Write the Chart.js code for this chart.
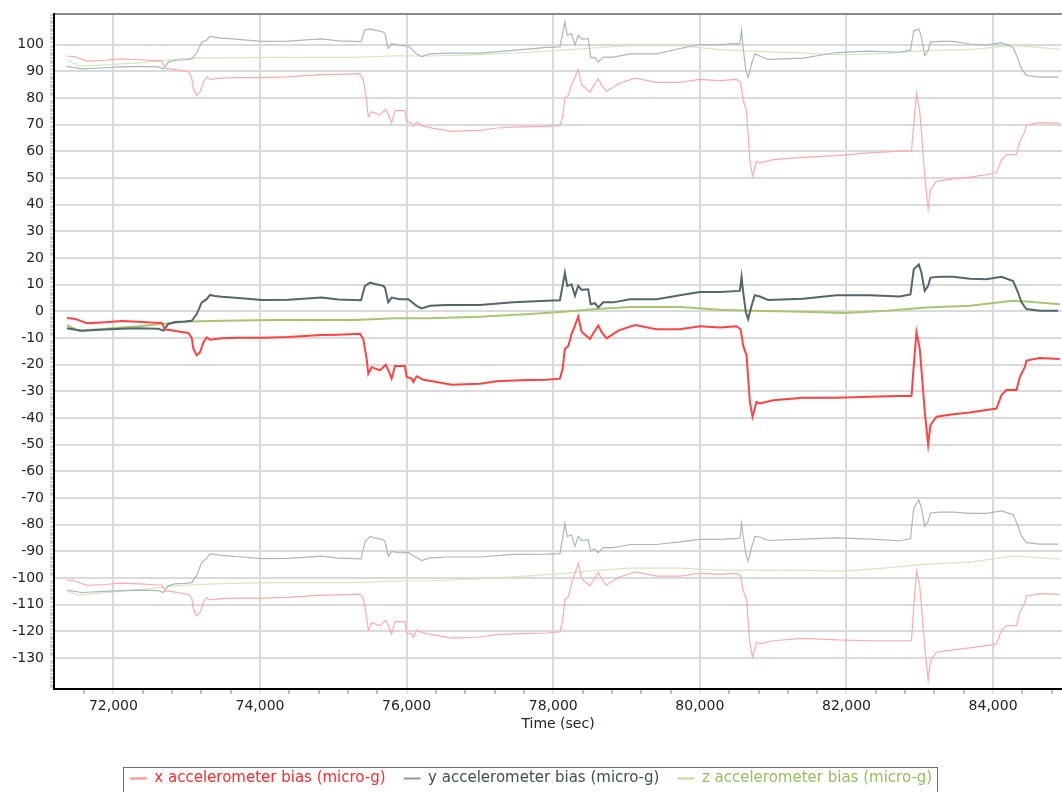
<!DOCTYPE html>
<html>
<head>
<meta charset="utf-8">
<script src="https://cdn.jsdelivr.net/npm/chart.js@4.4.0/dist/chart.umd.min.js"></script>
<style>
  html, body { margin: 0; padding: 0; background: #fff; }
</style>
</head>
<body>
<canvas id="myChart" width="1062" height="792"></canvas>
<script>
// x accelerometer bias: time (sec), bias and 3-sigma bound width (micro-g)
const xTime = [71365,71480,71637,71887,72114,72341,72569,72660,72705,72773,
  72886,73023,73069,73091,73137,73182,73227,73273,73318,73478,
  73705,74023,74386,74841,75068,75364,75409,75455,75477,75523,
  75637,75714,75750,75796,75841,75977,76000,76069,76091,76137,
  76228,76409,76614,77000,77228,77546,77910,78091,78128,78159,
  78205,78250,78296,78341,78387,78500,78546,78614,78660,78728,
  78887,79114,79410,79728,80000,80273,80500,80555,80591,80637,
  80682,80719,80773,80819,81000,81409,81864,82318,82727,82887,
  82918,82955,83000,83068,83114,83146,83228,83455,83682,83910,
  84046,84114,84182,84319,84364,84432,84455,84637,84910]
const xBias = [-2.5,-2.8,-4.4,-4.1,-3.6,-3.9,-4.2,-4.3,-6.8,-7.0,
  -7.5,-8.1,-10.0,-14.0,-16.5,-15.3,-11.6,-9.7,-10.6,-10.1,
  -9.9,-9.9,-9.6,-8.8,-8.7,-8.4,-10.4,-17.8,-23.4,-20.9,
  -22.1,-20.0,-22.0,-25.2,-20.5,-20.5,-24.6,-25.2,-26.5,-24.3,
  -25.6,-26.5,-27.5,-27.1,-26.2,-25.8,-25.6,-25.2,-21.5,-14.0,
  -13.0,-8.5,-5.3,-1.9,-7.6,-10.3,-8.2,-5.3,-7.8,-10.1,
  -7.2,-5.1,-6.7,-6.7,-5.6,-6.0,-5.6,-6.6,-12.8,-16.5,
  -33.9,-39.5,-33.9,-34.5,-33.3,-32.4,-32.4,-32.0,-31.7,-31.7,
  -20.2,-7.8,-14.0,-37.6,-50.0,-42.6,-39.5,-38.6,-37.9,-37.0,
  -36.4,-31.4,-29.5,-29.5,-24.6,-20.9,-18.4,-17.5,-17.8]
const xSigma = [98.3,98.3,98.3,98.3,98.3,98.3,98.3,98.3,98,98,
  98,98,97.6,97.6,97.6,97.6,97.6,97.6,97.6,97.6,
  97.6,97.6,97.6,97.6,97.6,97.6,97.2,96.8,96.4,95.8,
  95.8,95.8,95.8,95.8,95.8,95.8,95.8,95.8,95.8,95.2,
  95,95,95,95,95,95,95,95,94.5,94,
  94,93.5,93,92.6,92.6,92.6,92.6,92.6,92.6,92.6,
  92.6,92.6,92.6,92.6,92.6,92.6,92.6,92.6,92,91.5,
  90.5,90.2,90.2,90.2,90.2,90.2,90.8,91.5,91.8,91.8,
  90.5,89.5,89,88.3,88.3,88.3,88.3,88.3,88.3,88.3,
  88.3,88.3,88.3,88.3,88.3,88.3,88.3,88.3,88.3]

// y accelerometer bias
const yTime = [71365,71569,71887,72114,72341,72614,72682,72750,72841,72977,
  73069,73137,73205,73273,73318,73387,73478,73705,74023,74386,
  74841,75068,75378,75432,75500,75569,75682,75705,75750,75796,
  75909,76023,76137,76205,76318,76546,77000,77455,77910,78091,
  78128,78159,78191,78250,78296,78341,78387,78478,78510,78568,
  78614,78682,78819,79046,79410,79728,80000,80273,80546,80569,
  80591,80628,80659,80705,80750,80819,80932,81409,81864,82318,
  82727,82873,82918,82987,83023,83068,83114,83146,83273,83455,
  83682,83910,84114,84273,84341,84387,84455,84637,84887]
const yBias = [-6.3,-7.2,-6.8,-6.5,-6.3,-6.5,-7.2,-4.7,-4.0,-3.8,
  -3.5,-1.0,3.4,4.6,6.2,5.8,5.5,5.0,4.3,4.4,
  5.2,4.5,4.2,9.6,10.8,10.3,9.6,8.9,3.4,5.2,
  4.6,4.6,2.1,1.1,2.1,2.4,2.4,3.4,4.0,4.2,
  9.6,14.5,9.6,10.2,5.9,9.6,8.1,8.3,2.7,3.1,
  1.5,3.4,3.4,4.6,4.6,6.1,7.3,7.3,7.7,13.0,
  7.2,-0.4,-2.9,2.1,6.1,5.6,4.3,4.8,6.1,6.1,
  5.6,6.4,15.8,17.6,14.5,7.7,9.6,12.7,13.0,13.0,
  12.3,12.1,13.0,11.4,7.1,3.4,0.9,0.3,0.3]
const ySigma = [98.2,98.2,98.2,98.2,98.2,98.2,98.2,98.2,98.2,98.2,
  98.2,98,97.5,97.2,97,97,97,97,97,97,
  97,97,97,96,95.2,95.2,95.2,95.2,95.2,95.2,
  95.2,95,94.5,94.5,94.5,94.5,94.5,94.5,95,95,
  94.5,94,94,94,94,94,94,94,92.5,92.2,
  92,92,92,92,92,92.5,92.8,92.8,92.8,92.5,
  91.5,90.8,90.7,90.7,90.5,90.2,90.2,90.2,91,91.5,
  91.6,91.6,89.5,88.3,88.3,88.3,88.3,88.3,88.3,88.3,
  88,87.8,87.8,87.6,87.6,87.6,87.6,87.6,87.6]

// z accelerometer bias
const zTime = [71365,71523,71887,72341,72660,73023,73478,74160,75296,75841,
  76318,77000,77682,78137,78592,79046,79728,80273,80728,81409,
  81978,82546,83091,83682,84273,84500,84910]
const zBias = [-5.1,-7.2,-6.5,-5.6,-4.7,-3.8,-3.5,-3.2,-3.2,-2.6,
  -2.6,-2.0,-1.0,-0.1,0.9,1.7,1.7,0.6,0.3,-0.1,
  -0.6,0.3,1.5,2.1,4.0,3.6,2.7]
const zSigma = [99.6,99.2,99,98.8,98.8,98.8,98.6,98.5,98.5,98.5,
  98.4,98.3,98.2,98.1,98,98,98,97.6,97.3,97,
  96.8,96.5,96.3,96.1,95.8,95.7,95.6]

const legendLabels = ['x accelerometer bias (micro-g)', 'y accelerometer bias (micro-g)', 'z accelerometer bias (micro-g)']
const xTickValues = [72000, 74000, 76000, 78000, 80000, 82000, 84000]
const xTickLabels = ['72,000', '74,000', '76,000', '78,000', '80,000', '82,000', '84,000']
const yTickValues = [-130, -120, -110, -100, -90, -80, -70, -60, -50, -40, -30, -20, -10, 0, 10, 20, 30, 40, 50, 60, 70, 80, 90, 100]
const yTickLabels = ['-130', '-120', '-110', '-100', '-90', '-80', '-70', '-60', '-50', '-40', '-30', '-20', '-10', '0', '10', '20', '30', '40', '50', '60', '70', '80', '90', '100']

const mainColors = ['#ff4242', '#52666b', '#a6c76e']
const boundColors = ['#ffabab', '#aab8bb', '#d6e6c0']
const swatchColors = ['#ff8a8a', '#8c9b9d', '#c2da9a']
const textColors = ['#ff2a2a', '#3f4e54', '#96bf5c']

const gridColor = '#dadada'
const fontName = "'DejaVu Sans', Verdana, sans-serif"

function toPoints(times, vals) {
  return times.map((t, i) => ({x: t, y: vals[i]}))
}
// upper / lower bound = bias +/- 3 sigma
function toBound(times, vals, sig, sign) {
  return times.map((t, i) => ({x: t, y: vals[i] + sign * sig[i]}))
}

const series = [[xTime, xBias, xSigma], [yTime, yBias, ySigma], [zTime, zBias, zSigma]]
const datasets = []
series.forEach((s, i) => {
  datasets.push({label: legendLabels[i], data: toPoints(s[0], s[1]), borderColor: mainColors[i], borderWidth: 2})
})
series.forEach((s, i) => {
  datasets.push({label: '', data: toBound(s[0], s[1], s[2], 1), borderColor: boundColors[i], borderWidth: 1.2})
  datasets.push({label: '', data: toBound(s[0], s[1], s[2], -1), borderColor: boundColors[i], borderWidth: 1.2})
})

// box round the legend, as in the original
const legendBox = {
  id: 'legendBox',
  afterDraw(chart) {
    const hb = chart.legend.legendHitBoxes
    if (!hb || !hb.length) return
    const last = hb[hb.length - 1]
    const left = Math.round(hb[0].left - 7) + 0.5
    const right = Math.round(last.left + last.width + 5) + 0.5
    const top = Math.round(hb[0].top - 4) + 0.5
    const ctx = chart.ctx
    ctx.save()
    ctx.strokeStyle = '#6e6e6e'
    ctx.lineWidth = 1
    ctx.strokeRect(left, top, right - left, 60)
    ctx.restore()
  }
}

const ctx = document.getElementById('myChart').getContext('2d')
const myChart = new Chart(ctx, {
  type: 'line',
  data: {datasets: datasets},
  plugins: [legendBox],
  options: {
    responsive: false,
    animation: false,
    devicePixelRatio: 1,
    layout: {padding: {left: 0, right: 0, top: 0, bottom: -4}},
    elements: {point: {radius: 0}, line: {tension: 0}},
    plugins: {
      tooltip: {enabled: false},
      legend: {
        position: 'bottom',
        labels: {
          boxWidth: 17,
          boxHeight: 2,
          padding: 18,
          font: {family: fontName, size: 15},
          generateLabels: () => legendLabels.map((text, i) => ({
            text: text,
            fillStyle: swatchColors[i],
            strokeStyle: swatchColors[i],
            lineWidth: 0,
            fontColor: textColors[i],
            hidden: false,
            datasetIndex: i
          }))
        }
      }
    },
    scales: {
      x: {
        type: 'linear',
        position: 'bottom',
        min: 71190,
        max: 84940,
        afterBuildTicks: (s) => {
          const t = []
          for (let v = 71600; v <= 84800; v += 400) t.push({value: v})
          s.ticks = t
        },
        afterFit: (s) => { s.height = 64 },
        ticks: {
          autoSkip: false,
          maxRotation: 0,
          padding: 4,
          color: '#22222e',
          font: {family: fontName, size: 14},
          callback: (v) => {
            const i = xTickValues.indexOf(v)
            return i >= 0 ? xTickLabels[i] : ''
          }
        },
        grid: {
          lineWidth: 2,
          tickLength: 5,
          color: (c) => (c.tick && xTickValues.includes(c.tick.value)) ? gridColor : 'rgba(0,0,0,0)',
          tickColor: (c) => (c.tick && xTickValues.includes(c.tick.value)) ? gridColor : '#a8a8a8',
          tickWidth: 1.5
        },
        border: {color: '#000', width: 2},
        title: {
          display: true,
          text: 'Time (sec)',
          color: '#22222e',
          font: {family: fontName, size: 14},
          padding: {top: 0, bottom: 20}
        }
      },
      x2: {
        type: 'linear',
        position: 'top',
        min: 0,
        max: 1,
        afterFit: (s) => { s.height = 10 },
        ticks: {display: false},
        grid: {display: false, drawTicks: false},
        border: {display: true, color: '#8a8a8a', width: 2}
      },
      y: {
        type: 'linear',
        min: -141.6,
        max: 111.4,
        afterBuildTicks: (s) => {
          const t = []
          for (let v = -141; v <= 111; v++) t.push({value: v})
          s.ticks = t
        },
        afterFit: (s) => { s.width = 54 },
        ticks: {
          autoSkip: false,
          padding: 6,
          color: '#22222e',
          font: {family: fontName, size: 14},
          callback: (v) => {
            const i = yTickValues.indexOf(v)
            return i >= 0 ? yTickLabels[i] : ''
          }
        },
        grid: {
          lineWidth: 2,
          tickLength: 4,
          color: (c) => (c.tick && yTickValues.includes(c.tick.value)) ? gridColor : 'rgba(0,0,0,0)',
          tickColor: (c) => (c.tick && yTickValues.includes(c.tick.value)) ? gridColor : '#a8a8a8',
          tickWidth: 1
        },
        border: {color: '#000', width: 2}
      }
    }
  }
})
</script>
</body>
</html>
